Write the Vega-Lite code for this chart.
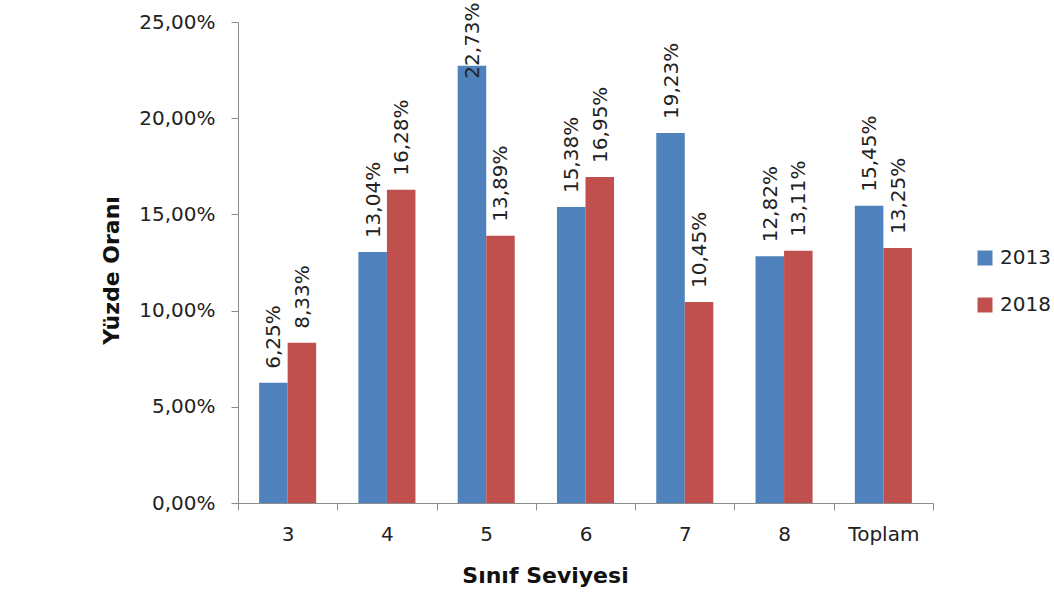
{
  "$schema": "https://vega.github.io/schema/vega-lite/v6.json",
  "autosize": {"type": "none"},
  "width": 695,
  "height": 481,
  "padding": {"left": 238, "top": 22, "right": 121, "bottom": 91},
  "background": "white",
  "config": {
    "locale": {"number": {"decimal": ",", "thousands": ".", "grouping": [3], "currency": ["", " ₺"]}},
    "font": "DejaVu Sans",
    "view": {"stroke": null},
    "axis": {
      "labelFont": "DejaVu Sans",
      "labelFontSize": 20,
      "labelColor": "#222222",
      "labelOverlap": false,
      "titleFont": "DejaVu Sans",
      "titleFontSize": 22,
      "titleFontWeight": "bold",
      "titleColor": "#111111",
      "domainColor": "#8c8c8c",
      "tickColor": "#8c8c8c",
      "tickSize": 7,
      "grid": false
    }
  },
  "data": {
    "values": [
      {"sinif": "3", "yil": "2013", "oran": 0.0625},
      {"sinif": "3", "yil": "2018", "oran": 0.0833},
      {"sinif": "4", "yil": "2013", "oran": 0.1304},
      {"sinif": "4", "yil": "2018", "oran": 0.1628},
      {"sinif": "5", "yil": "2013", "oran": 0.2273},
      {"sinif": "5", "yil": "2018", "oran": 0.1389},
      {"sinif": "6", "yil": "2013", "oran": 0.1538},
      {"sinif": "6", "yil": "2018", "oran": 0.1695},
      {"sinif": "7", "yil": "2013", "oran": 0.1923},
      {"sinif": "7", "yil": "2018", "oran": 0.1045},
      {"sinif": "8", "yil": "2013", "oran": 0.1282},
      {"sinif": "8", "yil": "2018", "oran": 0.1311},
      {"sinif": "Toplam", "yil": "2013", "oran": 0.1545},
      {"sinif": "Toplam", "yil": "2018", "oran": 0.1325}
    ]
  },
  "encoding": {
    "x": {
      "field": "sinif",
      "type": "nominal",
      "sort": null,
      "scale": {"paddingInner": 0, "paddingOuter": 0},
      "axis": {
        "title": "Sınıf Seviyesi",
        "labelAngle": 0,
        "labelPadding": 14,
        "titlePadding": 21,
        "titleX": 307,
        "tickBand": "extent"
      }
    },
    "xOffset": {"field": "yil", "type": "nominal", "scale": {"paddingInner": 0, "paddingOuter": 0.74}},
    "y": {
      "field": "oran",
      "type": "quantitative",
      "scale": {"domain": [0, 0.25], "nice": false},
      "axis": {
        "title": "Yüzde Oranı",
        "format": ".2%",
        "values": [0, 0.05, 0.1, 0.15, 0.2, 0.25],
        "labelPadding": 16,
        "titlePadding": 15,
        "titleY": 248
      }
    }
  },
  "layer": [
    {
      "mark": {"type": "bar"},
      "encoding": {
        "color": {
          "field": "yil",
          "type": "nominal",
          "scale": {"domain": ["2013", "2018"], "range": ["#4F81BD", "#C0504D"]},
          "legend": {
            "title": null,
            "orient": "none",
            "legendX": 737,
            "legendY": 226,
            "symbolType": "square",
            "symbolSize": 225,
            "symbolStrokeWidth": 0,
            "labelFontSize": 20,
            "labelFont": "DejaVu Sans",
            "labelColor": "#222222",
            "labelOffset": 5,
            "rowPadding": 27
          }
        }
      }
    },
    {
      "transform": [{"filter": "datum.oran < 0.2"}],
      "mark": {"type": "text", "angle": 270, "align": "left", "baseline": "middle", "dx": 14, "dy": 1, "fontSize": 20, "color": "#222222"},
      "encoding": {"text": {"field": "oran", "type": "quantitative", "format": ".2%"}}
    },
    {
      "transform": [{"filter": "datum.oran >= 0.2"}],
      "mark": {"type": "text", "angle": 270, "align": "left", "baseline": "middle", "dx": -13, "dy": 1, "fontSize": 20, "color": "#222222"},
      "encoding": {"text": {"field": "oran", "type": "quantitative", "format": ".2%"}}
    }
  ]
}
